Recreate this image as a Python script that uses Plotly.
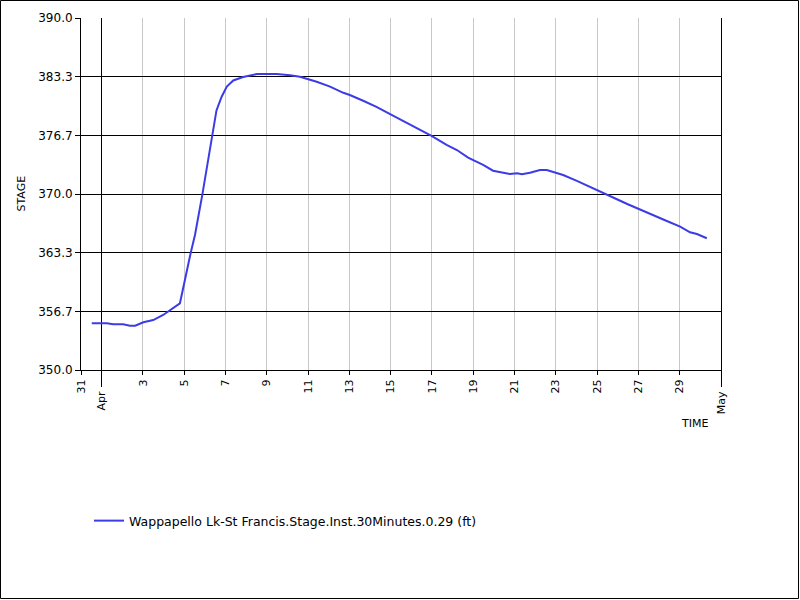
import plotly.graph_objects as go

# ---- data ----
times = [
    "2011-03-31 12:30", "2011-04-01 06:00", "2011-04-01 13:30", "2011-04-02 01:00",
    "2011-04-02 09:00", "2011-04-02 15:00", "2011-04-03 00:30", "2011-04-03 12:00",
    "2011-04-03 23:30", "2011-04-04 07:30", "2011-04-04 19:00", "2011-04-05 07:30",
    "2011-04-05 12:30", "2011-04-05 21:00", "2011-04-06 08:00", "2011-04-06 13:30",
    "2011-04-06 19:30", "2011-04-07 01:30", "2011-04-07 09:00", "2011-04-07 20:30",
    "2011-04-08 12:30", "2011-04-09 11:30", "2011-04-10 03:00", "2011-04-10 14:30",
    "2011-04-11 10:00", "2011-04-12 01:30", "2011-04-12 17:00", "2011-04-13 00:30",
    "2011-04-13 16:00", "2011-04-14 07:30", "2011-04-15 01:00", "2011-04-15 18:30",
    "2011-04-16 10:00", "2011-04-16 23:30", "2011-04-17 17:00", "2011-04-18 05:00",
    "2011-04-18 18:00", "2011-04-19 11:30", "2011-04-19 23:00", "2011-04-20 18:30",
    "2011-04-21 03:00", "2011-04-21 08:30", "2011-04-21 18:00", "2011-04-22 05:30",
    "2011-04-22 13:30", "2011-04-22 20:30", "2011-04-23 08:30", "2011-04-24 00:30",
    "2011-04-24 12:00", "2011-04-25 00:00", "2011-04-25 11:30", "2011-04-25 23:00",
    "2011-04-26 11:00", "2011-04-27 02:00", "2011-04-27 17:00", "2011-04-28 09:00",
    "2011-04-29 00:30", "2011-04-29 12:00", "2011-04-29 20:00", "2011-04-30 07:30",
]
stage = [
    355.30, 355.30, 355.19, 355.19,
    355.04, 355.04, 355.42, 355.68,
    356.25, 356.80, 357.58, 363.30,
    365.34, 369.90, 376.60, 379.50,
    381.06, 382.20, 382.90, 383.30,
    383.64, 383.64, 383.50, 383.33,
    382.76, 382.20, 381.50, 381.25,
    380.60, 379.90, 378.98, 378.10,
    377.27, 376.60, 375.57, 375.00,
    374.13, 373.30, 372.65, 372.27,
    372.35, 372.24, 372.42, 372.73,
    372.73, 372.50, 372.16, 371.50,
    371.00, 370.45, 369.90, 369.40,
    368.86, 368.26, 367.60, 366.93,
    366.30, 365.65, 365.45, 364.97,
]
series_name = "Wappapello Lk-St Francis.Stage.Inst.30Minutes.0.29 (ft)"

y_tickvals = [350.0, 356.6667, 363.3333, 370.0, 376.6667, 383.3333, 390.0]
y_ticktext = ["350.0", "356.7", "363.3", "370.0", "376.7", "383.3", "390.0"]

day_tickvals = ["2011-03-31"] + ["2011-04-%02d" % d for d in range(3, 30, 2)]
day_ticktext = ["31"] + [str(d) for d in range(3, 30, 2)]
month_tickvals = ["2011-04-01", "2011-05-01"]
month_ticktext = ["Apr", "May"]
x_range = ["2011-03-31 00:00", "2011-05-01 00:00"]

FONT = "DejaVu Sans"

fig = go.Figure()
fig.add_trace(go.Scatter(
    x=times, y=stage, mode="lines", name=series_name,
    line=dict(color="#3c3ce6", width=2),
))

fig.update_layout(
    width=800, height=600,
    margin=dict(l=81, r=79, t=18, b=230, autoexpand=False),
    paper_bgcolor="white", plot_bgcolor="white",
    font=dict(family=FONT, size=12, color="black"),
    showlegend=True,
    legend=dict(
        x=(89 - 81) / 640, y=(370 - 506) / 352, xanchor="left", yanchor="top",
        font=dict(family=FONT, size=12.5, color="black"),
        bgcolor="rgba(0,0,0,0)", borderwidth=0,
    ),
    xaxis=dict(
        type="date", range=x_range,
        tickmode="array", tickvals=day_tickvals, ticktext=day_ticktext,
        tickangle=-90, ticks="outside", ticklen=4, tickcolor="black",
        showgrid=True, gridcolor="#c8c8c8", gridwidth=1,
        showline=True, linecolor="black", linewidth=1, mirror=False,
        zeroline=False, tickfont=dict(family=FONT, size=11),
    ),
    xaxis2=dict(
        type="date", range=x_range, overlaying="x", side="bottom",
        tickmode="array", tickvals=month_tickvals, ticktext=month_ticktext,
        tickangle=-90, ticks="outside", ticklen=16, tickcolor="black",
        showgrid=True, gridcolor="black", gridwidth=1,
        showline=False, zeroline=False, tickfont=dict(family=FONT, size=11),
    ),
    yaxis=dict(
        range=[350, 390], tickmode="array", tickvals=y_tickvals, ticktext=y_ticktext,
        ticks="outside", ticklen=5, tickcolor="black",
        showgrid=True, gridcolor="black", gridwidth=1,
        showline=True, linecolor="black", linewidth=1, mirror=True,
        zeroline=False, tickfont=dict(family=FONT, size=12),
    ),
    annotations=[
        dict(text="STAGE", xref="paper", yref="paper",
             x=(20.5 - 81) / 640, y=(370 - 194) / 352, textangle=-90,
             showarrow=False, font=dict(family=FONT, size=11),
             xanchor="center", yanchor="middle"),
        dict(text="TIME", xref="paper", yref="paper",
             x=(694.5 - 81) / 640, y=(370 - 423) / 352,
             showarrow=False, font=dict(family=FONT, size=11),
             xanchor="center", yanchor="middle"),
    ],
    shapes=[
        dict(type="rect", xref="paper", yref="paper",
             x0=(0.5 - 81) / 640, x1=(798.5 - 81) / 640,
             y0=(370 - 598.5) / 352, y1=(370 - 0.5) / 352,
             line=dict(color="black", width=1), fillcolor="rgba(0,0,0,0)", layer="above"),
    ],
)
# invisible trace that attaches the month axis so its ticks/grid render
fig.add_trace(go.Scatter(x=[x_range[0]], y=[350], xaxis="x2", mode="markers",
                         marker=dict(opacity=0), showlegend=False, hoverinfo="skip"))

fig.write_html("out.html", config={"displayModeBar": False},
               post_script="document.body.style.margin='0';")
